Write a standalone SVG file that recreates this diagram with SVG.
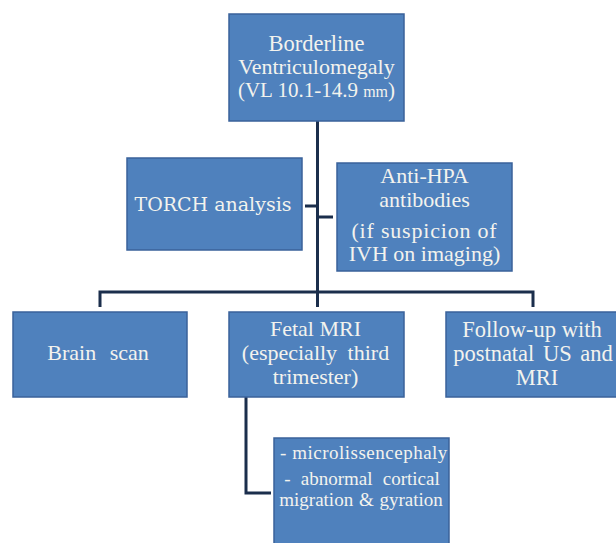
<svg xmlns="http://www.w3.org/2000/svg" width="616" height="543" viewBox="0 0 616 543">
<style>
.box{fill:#4F81BD;stroke:#3A629A;stroke-width:1.5}
.t{font-size:22px;fill:#F3F3EE;text-anchor:middle}
.con{fill:none;stroke:#1B2E4C;stroke-width:3;stroke-linejoin:miter;stroke-linecap:butt}
</style>
<rect width="616" height="543" fill="#ffffff"/>
<g id="connectors">
<path class="con" d="M317.5 121 V307"/>
<path class="con" d="M305 206 H317.5"/>
<path class="con" d="M317.5 217 H333"/>
<path class="con" d="M100 307 V292 H533 V307"/>
<path class="con" d="M246 397 V493 H271"/>
</g>
<g id="node-borderline" font-family="Liberation Serif">
<rect class="box" x="229" y="14" width="175" height="107"/>
<text class="t" style="font-size:22.5px" x="316.5" y="51">Borderline</text>
<text class="t" x="316.5" y="74">Ventriculomegaly</text>
<text class="t" style="font-size:21px" x="316.5" y="97">(VL 10.1-14.9 <tspan style="font-size:16px">mm</tspan>)</text>
</g>
<g id="node-torch" font-family="DejaVu Serif">
<rect class="box" x="127" y="158" width="175" height="92"/>
<text class="t" style="font-size:19px" x="213" y="211">TORCH analysis</text>
</g>
<g id="node-antihpa" font-family="Liberation Serif, DejaVu Serif, serif">
<rect class="box" x="337" y="163" width="175" height="108"/>
<text class="t" x="424.5" y="183">Anti-HPA</text>
<text class="t" x="424.5" y="207">antibodies</text>
<text class="t" style="letter-spacing:0.8px" x="424.5" y="238">(if suspicion of</text>
<text class="t" x="424.5" y="261">IVH on imaging)</text>
</g>
<g id="node-brainscan" font-family="serif">
<rect class="box" x="13" y="312" width="174" height="85"/>
<text class="t" style="word-spacing:8px" x="98" y="360">Brain scan</text>
</g>
<g id="node-fetalmri" font-family="Liberation Serif, serif">
<rect class="box" x="229" y="312" width="175" height="85"/>
<text class="t" x="315.5" y="336">Fetal MRI</text>
<text class="t" style="word-spacing:5px" x="315.5" y="360">(especially third</text>
<text class="t" x="315.5" y="384">trimester)</text>
</g>
<g id="node-followup" font-family="Liberation Serif, serif">
<rect class="box" x="446" y="312" width="176" height="85"/>
<text class="t" style="font-size:22.5px" x="532" y="337">Follow-up with</text>
<text class="t" style="font-size:22.5px;word-spacing:3px" x="533" y="361">postnatal US and</text>
<text class="t" style="font-size:22.5px" x="537" y="385">MRI</text>
</g>
<g id="node-findings" font-family="Liberation Serif, serif">
<rect class="box" x="274" y="438" width="175" height="110"/>
<text class="t" style="font-size:19px;letter-spacing:0.5px" x="364" y="459">- microlissencephaly</text>
<text class="t" style="font-size:19px;word-spacing:5.5px" x="362" y="485">- abnormal cortical</text>
<text class="t" style="font-size:19px;word-spacing:1px" x="361" y="506">migration &amp; gyration</text>
</g>
</svg>
